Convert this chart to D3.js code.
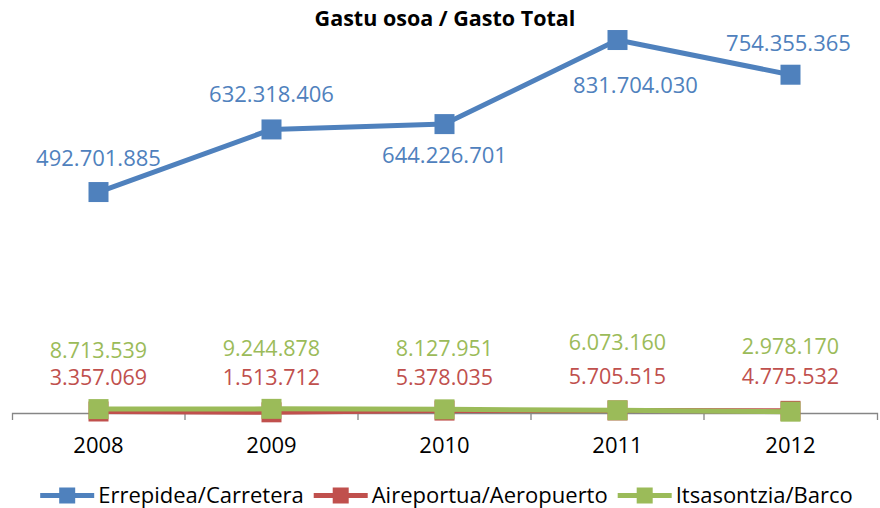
<!DOCTYPE html>
<html>
<head>
<meta charset="utf-8">
<script src="https://cdn.jsdelivr.net/npm/d3@7"></script>
<style>
  html, body { margin: 0; padding: 0; background: #fff; }
  svg { display: block; font-family: "Open Sans", "Liberation Sans", sans-serif; }
</style>
</head>
<body>
<svg id="chart" width="880" height="508"></svg>
<script>
// Annual spending by transport mode (euros)
const years = ["2008", "2009", "2010", "2011", "2012"];
const seriesNames = ["Errepidea/Carretera", "Aireportua/Aeropuerto", "Itsasontzia/Barco"];
const carretera = [492701885, 632318406, 644226701, 831704030, 754355365];
const aeropuerto = [3357069, 1513712, 5378035, 5705515, 4775532];
const barco = [8713539, 9244878, 8127951, 6073160, 2978170];
const title = "Gastu osoa / Gasto Total";

const colors = ["#4F81BD", "#C0504D", "#9BBB59"];
const seriesValues = [carretera, aeropuerto, barco];

// Label placement relative to each point: [dx, dy to baseline]
const labelOffsets = [
  [[0, -26], [0, -27], [0, 39], [18, 53], [-2, -24]],
  [[0, -26], [0, -27], [0, -26], [0, -26], [0, -26.5]],
  [[0, -51], [0, -53], [0, -53], [0, -60], [0, -57.5]]
];

const svg = d3.select("#chart");
const fontSize = 21.5;

const locale = d3.formatLocale({ decimal: ",", thousands: ".", grouping: [3], currency: ["", " €"] });
const fmt = locale.format(",d");

const x = d3.scaleBand().domain(years).range([12, 877]).padding(0);
const y = d3.scaleLinear().domain([0, 900000000]).range([413, 9.4]);
const cx = d => x(d) + x.bandwidth() / 2;

// Title
svg.append("text")
  .attr("x", 445).attr("y", 26)
  .attr("text-anchor", "middle")
  .attr("font-weight", "bold")
  .attr("font-size", 21.5)
  .attr("fill", "#000")
  .text(title);

// Category axis: outer ticks from the axis generator, labels centred in bands
const axisG = svg.append("g").attr("transform", `translate(0,${y(0)})`);
axisG.call(d3.axisBottom(x).tickSize(0).tickSizeOuter(7).tickPadding(24));
axisG.select(".domain").attr("stroke", "#868686").attr("stroke-width", 1.3);
axisG.selectAll(".tick text")
  .attr("font-size", 22)
  .attr("font-family", "\"Open Sans\", sans-serif")
  .attr("fill", "#000");
axisG.selectAll("line.boundary")
  .data(years.slice(1))
  .enter().append("line")
  .attr("class", "boundary")
  .attr("x1", d => x(d)).attr("x2", d => x(d))
  .attr("y1", 0).attr("y2", 7)
  .attr("stroke", "#868686").attr("stroke-width", 1.3);

// Series lines and markers
const line = d3.line().x((d, i) => cx(years[i])).y(d => y(d));
const markerSize = 20;

seriesValues.forEach((vals, s) => {
  const g = svg.append("g");
  g.append("path")
    .datum(vals)
    .attr("d", line)
    .attr("fill", "none")
    .attr("stroke", colors[s])
    .attr("stroke-width", 5)
    .attr("stroke-linejoin", "round");
  g.selectAll("rect")
    .data(vals)
    .enter().append("rect")
    .attr("x", (d, i) => cx(years[i]) - markerSize / 2)
    .attr("y", d => y(d) - markerSize / 2)
    .attr("width", markerSize)
    .attr("height", markerSize)
    .attr("fill", colors[s]);
});

// Value labels
seriesValues.forEach((vals, s) => {
  svg.append("g").selectAll("text")
    .data(vals)
    .enter().append("text")
    .attr("x", (d, i) => cx(years[i]) + labelOffsets[s][i][0])
    .attr("y", (d, i) => y(d) + labelOffsets[s][i][1])
    .attr("text-anchor", "middle")
    .attr("font-size", s === 0 ? 22 : fontSize)
    .attr("fill", colors[s])
    .text(d => fmt(d));
});

// Legend
const legend = svg.append("g");
const items = legend.selectAll("g").data(seriesNames).enter().append("g");
items.append("line")
  .attr("x1", 0).attr("x2", 54)
  .attr("y1", 0).attr("y2", 0)
  .attr("stroke", (d, i) => colors[i])
  .attr("stroke-width", 5);
items.append("rect")
  .attr("x", 27 - 8).attr("y", -8)
  .attr("width", 16).attr("height", 16)
  .attr("fill", (d, i) => colors[i]);
items.append("text")
  .attr("x", 58).attr("y", 7.5)
  .attr("font-size", 22)
  .attr("fill", "#000")
  .text(d => d);

const widths = [];
items.each(function () {
  const w = 58 + d3.select(this).select("text").node().getComputedTextLength();
  widths.push(w);
});
const gap = 10;
const total = d3.sum(widths) + gap * (widths.length - 1);
let start = 446.5 - total / 2;
items.attr("transform", (d, i) => {
  const tx = start;
  start += widths[i] + gap;
  return `translate(${tx},495.5)`;
});
</script>
</body>
</html>
